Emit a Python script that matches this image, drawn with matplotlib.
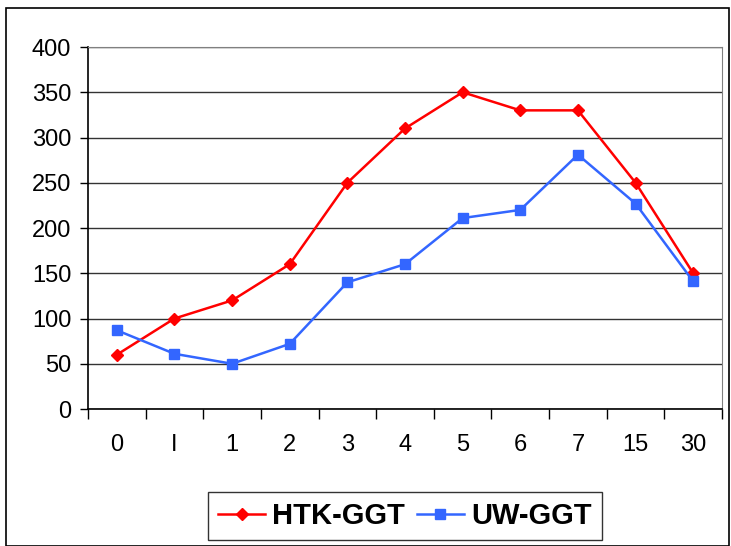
import matplotlib
matplotlib.use('Agg')
import matplotlib.pyplot as plt
from matplotlib.patches import Rectangle

# data
categories = ['0', 'I', '1', '2', '3', '4', '5', '6', '7', '15', '30']
htk_ggt = [60, 100, 120, 160, 250, 310, 350, 330, 330, 250, 150]
uw_ggt = [87, 61, 50, 72, 140, 160, 211, 220, 281, 227, 141]
yticks = [0, 50, 100, 150, 200, 250, 300, 350, 400]

plt.rcParams['font.family'] = ['Liberation Sans', 'DejaVu Sans']

fig = plt.figure(figsize=(7.31, 5.46), dpi=100)
ax = fig.add_axes([0.1204, 0.2509, 0.8673, 0.663])

# outer chart border
fig.patches.append(Rectangle((6 / 731, 0), 723 / 731, 538 / 546, transform=fig.transFigure,
                             fill=False, edgecolor='black', linewidth=1.2))

x = list(range(len(categories)))
ax.plot(x, htk_ggt, color='#ff0000', marker='D', markersize=6.5, linewidth=1.8, label='HTK-GGT')
ax.plot(x, uw_ggt, color='#3366ff', marker='s', markersize=6.5, linewidth=1.8, label='UW-GGT')

ax.set_xlim(-0.5, len(categories) - 0.5)
ax.set_ylim(0, 400)
ax.set_yticks(yticks)
ax.set_yticklabels([str(v) for v in yticks], fontsize=17)
ax.set_xticks(x)
ax.set_xticklabels(categories, fontsize=17)
ax.set_xticks([i - 0.5 for i in range(len(categories) + 1)], minor=True)
ax.tick_params(axis='x', which='major', length=0, pad=18)
ax.tick_params(axis='x', which='minor', length=7, width=1, direction='out')
ax.tick_params(axis='y', length=6, width=1, direction='out', pad=6)

ax.grid(axis='y', color='#333333', linewidth=1)
ax.set_axisbelow(True)
for side in ['top', 'right']:
    ax.spines[side].set_color('#808080')
for side in ['left', 'bottom']:
    ax.spines[side].set_color('black')
    ax.spines[side].set_linewidth(1.2)

leg = fig.legend(loc='center', bbox_to_anchor=(405 / 731, 1 - 516 / 546), ncol=2,
                 prop={'weight': 'bold', 'size': 21}, frameon=True, fancybox=False,
                 edgecolor='black', handlelength=1.6, handletextpad=0.25, columnspacing=0.4,
                 borderpad=0.35, borderaxespad=0)
leg.get_frame().set_linewidth(1)

fig.savefig('out.png', dpi=100)
